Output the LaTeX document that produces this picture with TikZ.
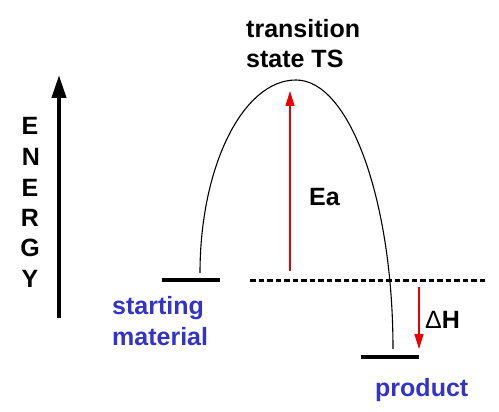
\documentclass[tikz,border=0pt]{standalone}
\usepackage{fontspec}
\setmainfont{Liberation Sans}
\usetikzlibrary{arrows.meta}
\definecolor{lblblue}{RGB}{51,51,204}
\definecolor{arrred}{RGB}{235,0,0}
\tikzset{
  lbl/.style={inner sep=0pt, anchor=base west, font=\fontsize{25}{30}\selectfont\bfseries},
  bluelbl/.style={lbl, text=lblblue},
  levelbar/.style={line width=4pt},
  redarrow/.style={draw=arrred, line width=1.2pt, -{Triangle[length=15pt,width=9pt]}, fill=arrred},
  curveline/.style={line width=1.1pt},
  letter/.style={inner sep=0pt, anchor=base, font=\fontsize{25}{30}\selectfont\bfseries}
}
\begin{document}
\begin{tikzpicture}[x=1pt,y=1pt]
\useasboundingbox (0,0) rectangle (499,412);
% energy axis
\coordinate (eb) at (59,94);
\coordinate (et) at (59,337);
\draw[line width=4pt, -{Triangle[length=23pt,width=14pt]}] (eb) -- (et);
\node[letter] (l1) at (30,277) {E};
\node[letter] (l2) at (31,246) {N};
\node[letter] (l3) at (30,215) {E};
\node[letter] (l4) at (30,185) {R};
\node[letter] (l5) at (30,155) {G};
\node[letter] (l6) at (30,124) {Y};
% levels
\coordinate (smL) at (162,132);
\coordinate (smR) at (220,132);
\coordinate (prL) at (361,55);
\coordinate (prR) at (419,55);
\draw[levelbar] (smL) -- (smR);
\draw[levelbar] (prL) -- (prR);
% reaction curve
\coordinate (cs) at (200,139);
\draw[curveline] (cs) arc[start angle=180, end angle=90, x radius=96, y radius=193]
  arc[start angle=90, end angle=0, x radius=97, y radius=269];
% dashed reference line
\coordinate (dL) at (250,131);
\coordinate (dR) at (485,131);
\draw[line width=3pt, dash pattern=on 5.5pt off 3pt] (dL) -- (dR);
% arrows
\coordinate (eaB) at (290,141);
\coordinate (eaT) at (290,321);
\draw[redarrow] (eaB) -- (eaT);
\coordinate (dhT) at (419,125);
\coordinate (dhB) at (419,63);
\draw[redarrow] (dhT) -- (dhB);
% labels
\node[lbl] (ts1) at (246,374) {transition};
\node[lbl] (ts2) at (246,344) {state TS};
\node[lbl] (ea) at (309,206) {Ea};
\node[lbl] (dh) at (425,83) {{\mdseries\symbol{"0394}}H};
\node[bluelbl] (sm1) at (112,97) {starting};
\node[bluelbl] (sm2) at (112,66) {material};
\node[bluelbl] (pr) at (375,15) {product};
\end{tikzpicture}
\end{document}
